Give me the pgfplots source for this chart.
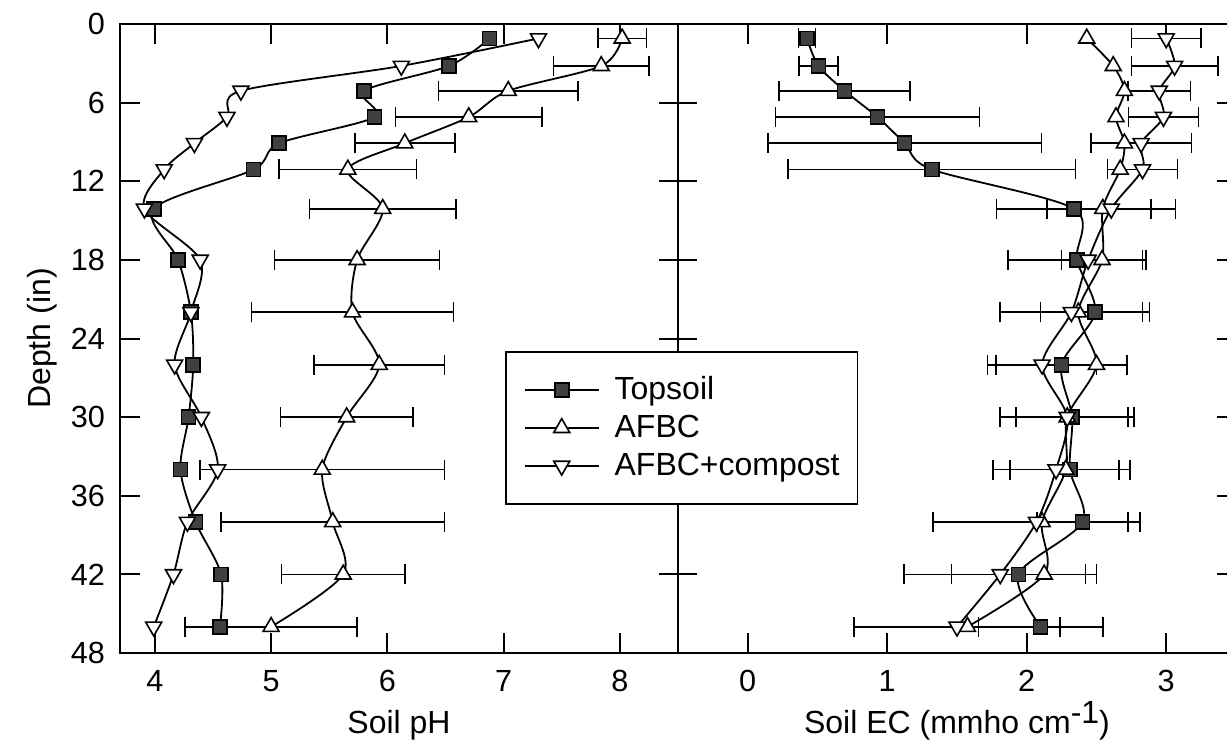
\documentclass[border=0pt]{standalone}
\usepackage{fontspec}
\setmainfont{Liberation Sans}
\usepackage{pgfplots}
\usepackage{pgfplotstable}
\pgfplotsset{compat=1.18}

\newcommand\lblfont{\fontsize{15.3}{18}\selectfont}
\newcommand\axfont{\fontsize{16}{19}\selectfont}

% soil pH by depth (in)
\pgfplotstableread{
depth top  afbc afbcerr comp
1.1   6.88 8.02 0.21    7.30
3.2   6.53 7.84 0.41    6.12
5.1   5.80 7.04 0.60    4.74
7.1   5.89 6.70 0.63    4.62
9.1   5.07 6.15 0.43    4.34
11.1  4.85 5.66 0.59    4.08
14.1  3.99 5.96 0.63    3.91
18    4.20 5.74 0.71    4.39
22    4.31 5.70 0.87    4.31
26    4.33 5.93 0.56    4.17
30    4.29 5.65 0.57    4.40
34    4.22 5.44 1.05    4.54
38    4.35 5.53 0.96    4.28
42    4.57 5.62 0.53    4.16
46    4.56 5.00 0.74    3.99
}\phdata

% soil EC (mmho/cm) by depth (in)
\pgfplotstableread{
depth top   toperr afbc  comp
1.1   0.425 0.06   2.43  3.00
3.2   0.507 0.14   2.62  3.06
5.1   0.695 0.47   2.70  2.95
7.1   0.93  0.73   2.64  2.98
9.1   1.125 0.98   2.70  2.82
11.1  1.32  1.03   2.67  2.83
14.1  2.337 0.555  2.545 2.606
18    2.36  0.495  2.54  2.44
22    2.49  0.39   2.37  2.32
26    2.25  0.47   2.50  2.11
30    2.325 0.40   2.29  2.29
34    2.31  0.43   2.28  2.21
38    2.40  0.325  2.11  2.07
42    1.94  0.48   2.125 1.81
46    2.10  0.445  1.575 1.50
}\ecdata

% compost EC error bars (none visible at 18 in)
\pgfplotstableread{
depth comp  comperr
1.1   3.00  0.25
3.2   3.06  0.31
5.1   2.95  0.225
7.1   2.98  0.25
9.1   2.82  0.36
11.1  2.83  0.25
14.1  2.606 0.46
22    2.32  0.51
26    2.11  0.39
30    2.29  0.48
34    2.21  0.45
38    2.07  0.74
42    1.81  0.69
46    1.50  0.74
}\eccomperr

\pgfplotsset{
  panel/.style={
    width=279pt, height=314.5pt, scale only axis,
    y dir=reverse, ymin=0, ymax=48, ytick={0,6,...,48},
    axis line style={line width=1.3pt},
    tick style={black, line width=1pt},
    tick align=inside, major tick length=10pt,
    xtick pos=both,
    xticklabel={\lblfont\pgfmathprintnumber{\tick}},
    yticklabel={\lblfont\pgfmathprintnumber{\tick}},
    /pgf/number format/assume math mode=true,
    xticklabel style={yshift=-5pt},
    clip=false,
  },
  topsoil/.style={black, line width=0.9pt, smooth, mark=square*, mark size=3.5pt,
    mark options={fill=black!75, draw=black, line width=0.8pt}},
  afbc/.style={black, line width=0.9pt, smooth, mark=triangle*, mark size=4.6pt,
    mark options={fill=white, draw=black, line width=0.8pt}},
  comp/.style={black, line width=0.9pt, smooth, mark=triangle*, mark size=4.6pt,
    mark options={fill=white, draw=black, line width=0.8pt, rotate=180}},
  ebar/.style={forget plot, draw=none, mark=none,
    error bars/.cd, x dir=both, x explicit,
    error bar style={draw=black, line width=0.8pt},
    error mark=|,
    error mark options={draw=black, mark size=5pt, line width=0.8pt}},
}

\begin{document}
\begin{tikzpicture}
\begin{axis}[panel, name=ph, at={(0,0)}, anchor=south west,
  xmin=3.7, xmax=8.5, xtick={4,5,6,7,8},
  ytick pos=left,
  yticklabel style={xshift=-4pt},
  xlabel={\axfont Soil pH}, ylabel={\axfont Depth (in)},
  xlabel style={yshift=-2.5pt},
]
\addplot[ebar] table[x=afbc, y=depth, x error=afbcerr] {\phdata};
\addplot[topsoil] table[x=top, y=depth] {\phdata};
\addplot[afbc] table[x=afbc, y=depth] {\phdata};
\addplot[comp] table[x=comp, y=depth] {\phdata};
\end{axis}

\begin{axis}[panel, name=ec, at={(ph.south east)}, anchor=south west,
  xmin=-0.5, xmax=3.5, xtick={0,1,2,3},
  ytick pos=both, yticklabels={},
  ytick align=center,
  ytick style={/pgfplots/major tick length=19pt},
  xlabel={\axfont Soil EC (mmho cm\raisebox{0.3em}{-1})},
  xlabel style={yshift=2pt},
  legend style={at={(axis description cs:-0.310,0.480)}, anchor=north west,
    draw=black, line width=0.8pt, fill=white,
    font=\fontsize{16}{18}\selectfont,
    inner xsep=9pt, inner ysep=11pt, row sep=3pt, column sep=7.5pt,
    nodes={inner sep=0pt, text height=13pt, text depth=3pt}},
  legend cell align=left,
  legend image code/.code={\draw[mark repeat=2, mark phase=2, #1]
    plot coordinates {(0pt,0pt) (18.5pt,0pt) (37pt,0pt)};},
]
\addplot[ebar] table[x=top, y=depth, x error=toperr] {\ecdata};
\addplot[ebar] table[x=comp, y=depth, x error=comperr] {\eccomperr};
\addplot[ebar] coordinates {(2.54,18) +- (0.29,0)};
\addplot[topsoil, forget plot] table[x=top, y=depth] {\ecdata};
\addplot[afbc, forget plot] table[x=afbc, y=depth] {\ecdata};
\addplot[comp, forget plot] table[x=comp, y=depth] {\ecdata};
\addlegendimage{topsoil}
\addlegendentry{Topsoil}
\addlegendimage{afbc}
\addlegendentry{AFBC}
\addlegendimage{comp}
\addlegendentry{AFBC+compost}
\end{axis}

\pgfresetboundingbox
\path (ph.south west) ++(-60pt,-44.5pt) rectangle ++(613.5pt,371pt);
\end{tikzpicture}
\end{document}
